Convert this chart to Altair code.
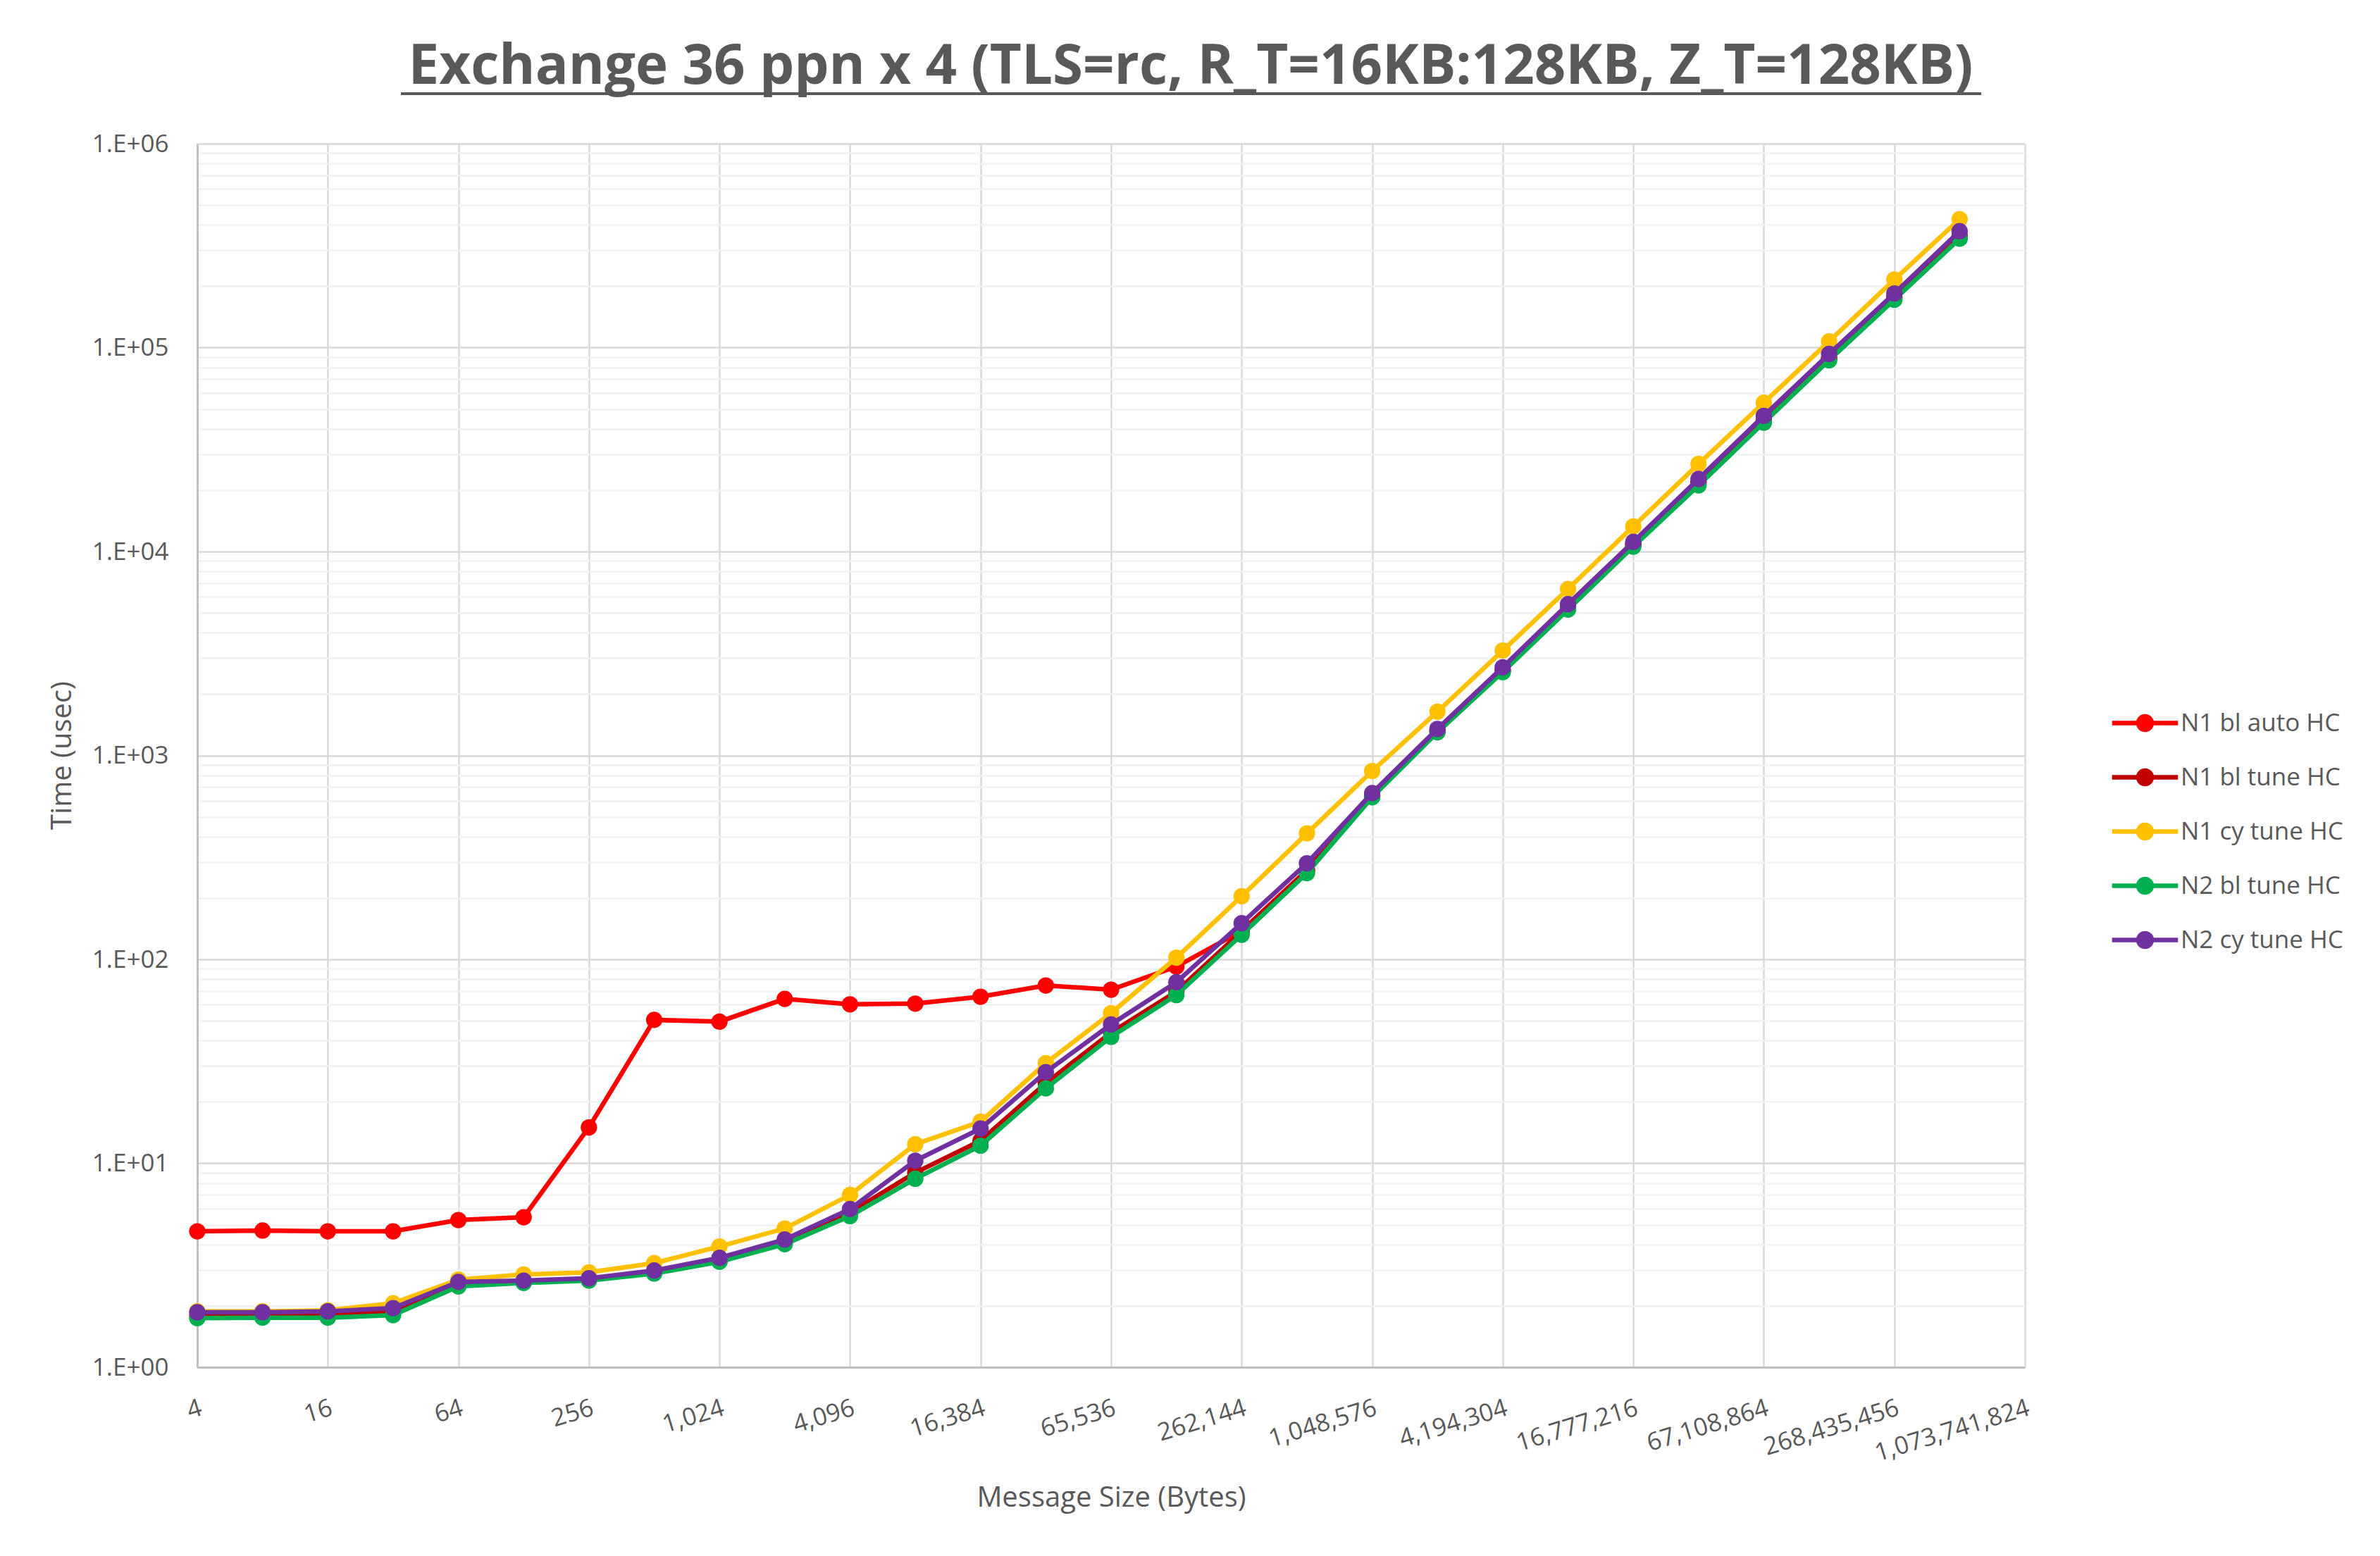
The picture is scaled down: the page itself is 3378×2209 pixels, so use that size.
import altair as alt
import pandas as pd

# message sizes (bytes), one point per power of two
sizes = [4, 8, 16, 32, 64, 128, 256, 512, 1024, 2048, 4096, 8192, 16384, 32768,
         65536, 131072, 262144, 524288, 1048576, 2097152, 4194304, 8388608,
         16777216, 33554432, 67108864, 134217728, 268435456, 536870912]

series_names = ["N1 bl auto HC", "N1 bl tune HC", "N1 cy tune HC", "N2 bl tune HC", "N2 cy tune HC"]
series_colors = ["#FF0000", "#C00000", "#FFC000", "#00B050", "#7030A0"]

# time in usec
n1_bl_auto = [4.64, 4.68, 4.64, 4.64, 5.27, 5.44, 15.0, 50.5, 49.5, 64.0, 60.2, 60.7, 65.6, 74.5,
              71.0, 92.1, 138, 274, 634, 1315, 2610, 5320, 10850, 21800, 44100, 88900, 177000, 351000]
n1_bl_tune = [1.79, 1.80, 1.81, 1.88, 2.55, 2.62, 2.70, 2.93, 3.32, 4.10, 5.75, 9.0, 12.9, 24.7,
              43.8, 69.5, 137, 272, 632, 1310, 2600, 5300, 10800, 21700, 43900, 88500, 176000, 350000]
n1_cy_tune = [1.88, 1.88, 1.90, 2.06, 2.69, 2.85, 2.92, 3.24, 3.91, 4.79, 7.0, 12.4, 16.0, 31.0,
              54.5, 102, 204, 415, 839, 1640, 3270, 6550, 13280, 26900, 53700, 107300, 215600, 426600]
n2_bl_tune = [1.74, 1.75, 1.75, 1.80, 2.49, 2.59, 2.66, 2.88, 3.29, 4.01, 5.51, 8.4, 12.2, 23.3,
              41.7, 66.8, 132, 265, 624, 1300, 2563, 5195, 10570, 21100, 42860, 86700, 171800, 342000]
n2_cy_tune = [1.86, 1.86, 1.88, 1.95, 2.62, 2.66, 2.73, 2.98, 3.44, 4.23, 5.97, 10.3, 14.8, 28.0,
              48.0, 77.3, 150.5, 296, 654, 1350, 2707, 5522, 11160, 22700, 46300, 93100, 184400, 372400]
series_values = [n1_bl_auto, n1_bl_tune, n1_cy_tune, n2_bl_tune, n2_cy_tune]

x_ticks = [4, 16, 64, 256, 1024, 4096, 16384, 65536, 262144, 1048576, 4194304,
           16777216, 67108864, 268435456, 1073741824]
y_decades = [1, 10, 100, 1000, 10000, 100000, 1000000]
y_minor_steps = [2, 3, 4, 5, 6, 7, 8, 9]

rows = []
for name, vals in zip(series_names, series_values):
    for s, v in zip(sizes, vals):
        rows.append({"series": name, "size": s, "time": v})
df = pd.DataFrame(rows)

y_ticks = sorted(y_decades + [d * m for d in y_decades[:-1] for m in y_minor_steps])
is_decade = "abs(log(datum.value)/LN10 - round(log(datum.value)/LN10)) < 0.001"

GREY = "#595959"

x_enc = alt.X("size:Q",
    scale=alt.Scale(type="log", base=2, domain=[4, 1073741824], nice=False),
    axis=alt.Axis(values=x_ticks, format=",d", title="Message Size (Bytes)",
                  labelAngle=-17, labelAlign="right", labelBaseline="top", labelPadding=40,
                  labelOverlap=False, labelFlush=False, labelLimit=0, ticks=False,
                  gridColor="#D9D9D9", gridWidth=2.5,
                  domainColor="#BFBFBF", domainWidth=3,
                  titleY=185, titleBaseline="middle"))

y_enc = alt.Y("time:Q",
    scale=alt.Scale(type="log", domain=[1, 1000000], nice=False),
    axis=alt.Axis(values=y_ticks, title="Time (usec)",
                  labelExpr=is_decade + " ? '1.E+0' + round(log(datum.value)/LN10) : ''",
                  labelOverlap=False, labelFlush=False, labelPadding=41, ticks=False,
                  gridColor={"condition": {"test": is_decade, "value": "#D9D9D9"}, "value": "#F2F2F2"},
                  gridWidth=2.5, domainColor="#BFBFBF", domainWidth=3,
                  titleX=-192, titleY=868, titleAlign="center", titleBaseline="middle"))

# legend symbol: a short line with a dot in the middle
legend_symbol = "M-3.6,0L3.6,0M0.73,0A0.73,0.73,0,1,1,-0.73,0A0.73,0.73,0,1,1,0.73,0Z"
legend = alt.Legend(orient="none", legendX=2747, legendY=805, padding=0,
                    symbolType=legend_symbol, symbolSize=676, symbolStrokeWidth=6.5,
                    labelOffset=33, rowPadding=32, labelFontSize=35, labelColor=GREY,
                    labelLimit=0)

color = alt.Color("series:N", title=None,
                  scale=alt.Scale(domain=series_names, range=series_colors), legend=legend)

base = alt.Chart(df).encode(x=x_enc, y=y_enc, color=color)

layers = []
for name in series_names:
    one = base.transform_filter(alt.datum.series == name)
    layers.append(one.mark_line(strokeWidth=6.5))
    layers.append(one.mark_circle(size=540, opacity=1))

# underline for the title
underline = alt.Chart(alt.Data(values=[{}])).mark_rule(color=GREY, strokeWidth=4).encode(
    x=alt.value(289), x2=alt.value(2532), y=alt.value(-71))

chart = alt.layer(*layers, underline).properties(
    width=2594, height=1737,
    autosize=alt.AutoSizeParams(type="none"),
    padding={"left": 272, "top": 196, "right": 496, "bottom": 260},
    title=alt.Title("Exchange 36 ppn x 4 (TLS=rc, R_T=16KB:128KB, Z_T=128KB)",
                    fontSize=78, fontWeight="bold", color=GREY, anchor="middle",
                    frame="group", dx=113, dy=75, baseline="alphabetic", offset=9),
).configure(font="Open Sans").configure_view(stroke="transparent").configure_axis(
    labelFont="Open Sans", labelFontSize=35, labelColor=GREY,
    titleFont="Open Sans", titleFontSize=40, titleColor=GREY, titleFontWeight="normal",
    zindex=0,
).configure_legend(labelFont="Open Sans")

chart.save("out.html", embed_options={"renderer": "svg", "actions": False})
